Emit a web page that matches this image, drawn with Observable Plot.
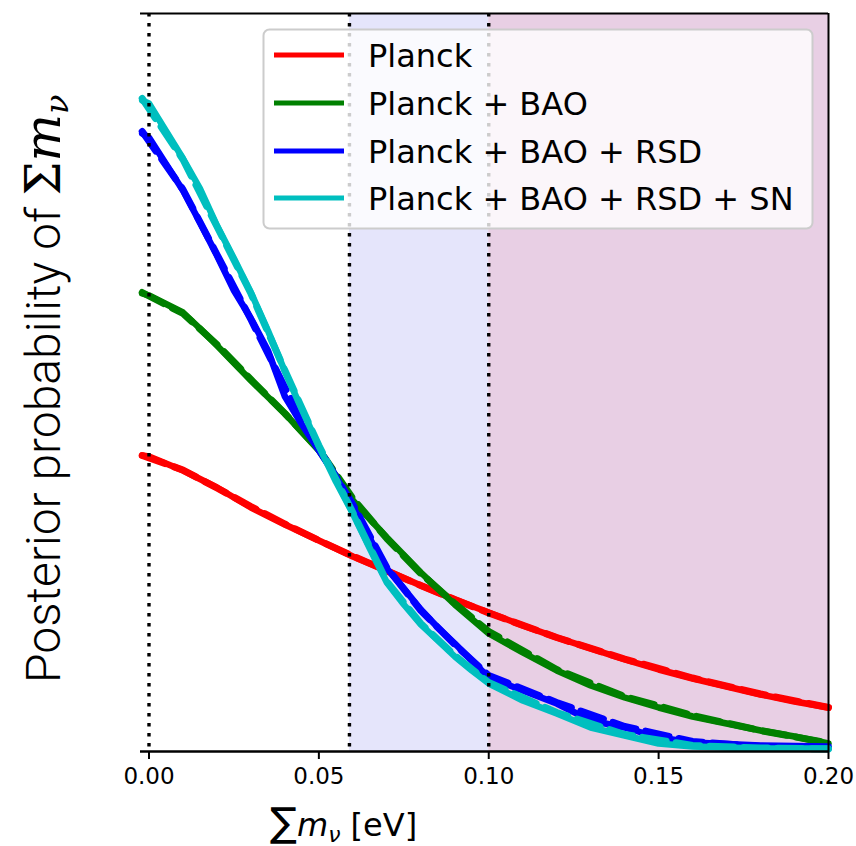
<!DOCTYPE html>
<html>
<head>
<meta charset="utf-8">
<script src="https://cdn.jsdelivr.net/npm/d3@7"></script>
<script src="https://cdn.jsdelivr.net/npm/@observablehq/plot@0.6"></script>
<style>
  html, body { margin: 0; padding: 0; background: #fff; }
  #chart { width: 856px; height: 846px; }
</style>
</head>
<body>
<div id="chart"></div>
<script>
// ---------- data ----------
const seriesNames = ["Planck", "Planck + BAO", "Planck + BAO + RSD", "Planck + BAO + RSD + SN"];
const seriesColors = ["#ff0000", "#008000", "#0000ff", "#00bfbf"];

const xTicks = [0.00, 0.05, 0.10, 0.15, 0.20];
const xDomain = [-0.0025, 0.2];
const yDomain = [0, 14.76];
const dottedLines = [0, 0.059, 0.1];
const bandEdges = [0.059, 0.1, 0.2];

// Planck
const redX = [-0.002, 0, 0.01, 0.02, 0.03, 0.04, 0.05, 0.06, 0.07, 0.08, 0.09, 0.10, 0.11, 0.12, 0.13, 0.14, 0.15, 0.16, 0.17, 0.18, 0.19, 0.20];
const redY = [5.92, 5.90, 5.62, 5.28, 4.88, 4.54, 4.22, 3.90, 3.62, 3.32, 3.04, 2.78, 2.52, 2.28, 2.06, 1.84, 1.64, 1.46, 1.30, 1.14, 1.00, 0.88];

// Planck + BAO
const greenX = [-0.002, 0, 0.01, 0.015, 0.02, 0.03, 0.04, 0.05, 0.06, 0.07, 0.08, 0.09, 0.10, 0.11, 0.12, 0.13, 0.14, 0.15, 0.16, 0.17, 0.18, 0.19, 0.20];
const greenY = [9.16, 9.12, 8.78, 8.46, 8.12, 7.42, 6.76, 6.02, 5.02, 4.28, 3.58, 2.94, 2.36, 1.98, 1.62, 1.32, 1.08, 0.88, 0.70, 0.56, 0.42, 0.30, 0.16];

// Planck + BAO + RSD  and  + SN
const fineX = [-0.002, 0, 0.01, 0.015, 0.02, 0.025, 0.03, 0.035, 0.04, 0.045, 0.05, 0.055, 0.06, 0.065, 0.07, 0.075, 0.08, 0.085, 0.09, 0.095, 0.10, 0.11, 0.12, 0.13, 0.14, 0.15, 0.16, 0.18, 0.20];
const blueY = [12.36, 12.28, 11.22, 10.58, 9.92, 9.22, 8.66, 8.02, 7.10, 6.54, 6.02, 5.50, 4.90, 4.26, 3.66, 3.26, 2.84, 2.48, 2.16, 1.82, 1.48, 1.22, 0.96, 0.62, 0.48, 0.28, 0.18, 0.12, 0.10];
const cyanY = [13.02, 12.96, 11.86, 11.26, 10.52, 9.86, 9.18, 8.42, 7.60, 6.84, 6.10, 5.40, 4.76, 4.06, 3.38, 2.94, 2.54, 2.22, 1.90, 1.62, 1.36, 1.02, 0.76, 0.48, 0.32, 0.16, 0.10, 0.06, 0.06];

// dashed (smooth fit) curves
const fitX = [-0.002, 0.01, 0.02, 0.03, 0.04, 0.05, 0.06, 0.07, 0.08, 0.09, 0.10, 0.12, 0.14, 0.16, 0.18, 0.20];
const redFit   = [5.92, 5.63, 5.27, 4.90, 4.55, 4.22, 3.91, 3.61, 3.32, 3.04, 2.77, 2.28, 1.85, 1.47, 1.15, 0.88];
const greenFit = [9.18, 8.76, 8.14, 7.44, 6.76, 6.04, 5.06, 4.26, 3.56, 2.96, 2.40, 1.64, 1.10, 0.72, 0.42, 0.17];
const blueFit  = [12.40, 11.24, 9.94, 8.64, 7.28, 6.06, 4.94, 3.68, 2.82, 2.14, 1.52, 0.98, 0.50, 0.20, 0.10, 0.07];
const cyanFit  = [13.06, 11.84, 10.50, 9.16, 7.62, 6.12, 4.78, 3.40, 2.56, 1.92, 1.38, 0.78, 0.34, 0.12, 0.07, 0.05];

// ---------- build tables ----------
const toRows = (xs, ys) => xs.map((x, i) => ({x, y: ys[i]}));
const solid = [toRows(redX, redY), toRows(greenX, greenY), toRows(fineX, blueY), toRows(fineX, cyanY)];
const dashed = [toRows(fitX, redFit), toRows(fitX, greenFit), toRows(fitX, blueFit), toRows(fitX, cyanFit)];

const curveMarks = [];
for (let i = 0; i < 4; i++) {
  curveMarks.push(Plot.line(solid[i], {x: "x", y: "y", stroke: seriesColors[i], strokeWidth: 6.5, strokeLinejoin: "round"}));
  curveMarks.push(Plot.line(dashed[i], {x: "x", y: "y", stroke: seriesColors[i], strokeWidth: 7, strokeDasharray: "24,10"}));
}
const fmt = d3.format(".2f");

const chart = Plot.plot({
  width: 856,
  height: 846,
  marginLeft: 140,
  marginRight: 28,
  marginTop: 13,
  marginBottom: 95,
  style: {fontFamily: "DejaVu Sans", color: "#000", background: "#fff"},
  x: {domain: xDomain},
  y: {domain: yDomain, axis: null},
  marks: [
    Plot.rect([{x1: bandEdges[0], x2: bandEdges[1]}], {x1: "x1", x2: "x2", fill: "#e5e5fb"}),
    Plot.rect([{x1: bandEdges[1], x2: bandEdges[2]}], {x1: "x1", x2: "x2", fill: "#e8cfe4"}),
    ...curveMarks,
    Plot.ruleX(dottedLines, {stroke: "#000", strokeWidth: 3.4, strokeDasharray: "3.4,6.6"}),
    Plot.ruleY([yDomain[1]], {stroke: "#000", strokeWidth: 2}),
    Plot.ruleX([xDomain[1]], {stroke: "#000", strokeWidth: 2}),
    Plot.ruleY([yDomain[0]], {stroke: "#000", strokeWidth: 2.6}),
    Plot.axisX({ticks: xTicks, tickFormat: () => "", tickSize: 8, strokeWidth: 2, label: null}),
    Plot.text(xTicks, {x: d => d, text: d => fmt(d), frameAnchor: "bottom", dy: 32,
                       fontSize: 23, fontFamily: "DejaVu Sans", fill: "#000"})
  ]
});

document.getElementById("chart").appendChild(chart);

const svg = d3.select(chart);

// ---------- legend and axis titles ----------
const leg = svg.append("g").attr("text-anchor", "start");
leg.append("rect")
  .attr("x", 263.5).attr("y", 29.5).attr("width", 549).attr("height", 199)
  .attr("rx", 6).attr("fill", "#fff").attr("fill-opacity", 0.8)
  .attr("stroke", "#cccccc").attr("stroke-width", 2);
const rowY = [55, 103, 151, 198];
seriesNames.forEach((name, i) => {
  leg.append("line")
    .attr("x1", 274).attr("x2", 344).attr("y1", rowY[i]).attr("y2", rowY[i])
    .attr("stroke", seriesColors[i]).attr("stroke-width", 5);
  leg.append("text")
    .attr("x", 368).attr("y", rowY[i] + 12)
    .attr("text-anchor", "start")
    .attr("font-family", "DejaVu Sans").attr("font-size", 32).attr("fill", "#000")
    .text(name);
});

// x-axis title: ∑m_ν [eV]
const xt = svg.append("text")
  .attr("x", 270).attr("y", 836)
  .attr("text-anchor", "start")
  .attr("font-family", "DejaVu Sans").attr("font-size", 32).attr("fill", "#000");
xt.append("tspan").attr("font-size", 40).text("∑");
xt.append("tspan").attr("font-style", "italic").text("m");
xt.append("tspan").attr("font-style", "italic").attr("font-size", 22).attr("dy", 6).text("ν");
xt.append("tspan").attr("dy", -6).text(" [eV]");

// y-axis title: Posterior probability of Σm_ν
const yt = svg.append("text")
  .attr("transform", "translate(60,683) rotate(-90)")
  .attr("text-anchor", "start")
  .attr("font-family", "Roboto, 'Liberation Sans', sans-serif").attr("font-weight", 300)
  .attr("font-size", 48).attr("fill", "#000");
yt.append("tspan").text("Posterior probability of ");
yt.append("tspan").attr("font-family", "'DejaVu Serif', serif").attr("font-size", 48).text("Σ");
yt.append("tspan").attr("font-family", "'DejaVu Serif', serif").attr("font-style", "italic").attr("font-size", 50).text("m");
yt.append("tspan").attr("font-family", "'DejaVu Serif', serif").attr("font-style", "italic").attr("font-size", 32).attr("dy", 8).text("ν");
</script>
</body>
</html>
